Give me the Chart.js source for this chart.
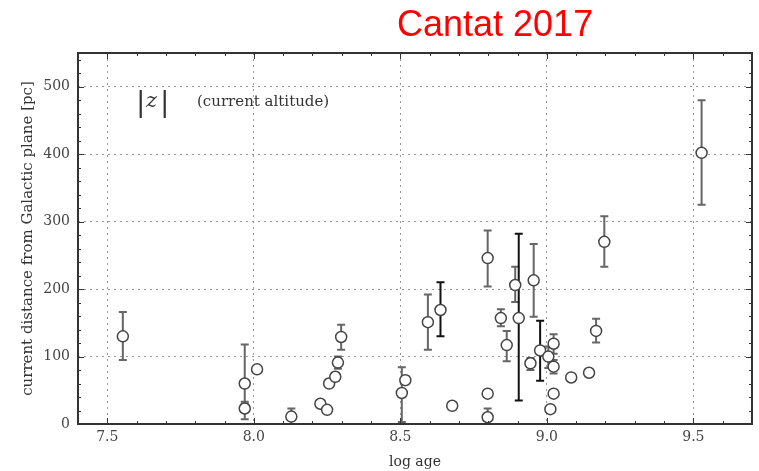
<!DOCTYPE html>
<html>
<head>
<meta charset="utf-8">
<script src="https://cdn.jsdelivr.net/npm/chart.js@4"></script>
<style>
  html, body { margin: 0; padding: 0; background: #fff; }
  #wrap { width: 759px; height: 471px; position: relative; }
</style>
</head>
<body>
<div id="wrap"><canvas id="myChart"></canvas></div>
<script>
// data
const logAge = [7.553, 7.969, 7.969, 8.011, 8.128, 8.227, 8.250, 8.257, 8.278, 8.287, 8.298,
  8.505, 8.517, 8.594, 8.637, 8.677, 8.798, 8.798, 8.798, 8.843, 8.863, 8.892, 8.904,
  8.944, 8.955, 8.977, 9.005, 9.023, 9.023, 9.012, 9.023, 9.083, 9.144, 9.168, 9.196, 9.528];
const zDist = [130, 60, 23, 81, 11, 30, 21, 60, 70, 91, 129,
  46, 65, 151, 169, 27, 246, 45, 10, 157, 117, 206, 157,
  90, 213, 109, 100, 119, 85, 22, 45, 69, 76, 138, 270, 402];
// upper / lower ends of the error bars (null = no bar)
const zUpper = [166, 118, 33, 86, 23, null, null, 66, 76, 100, 147,
  84, 71, 192, 210, null, 287, null, 23, 170, 138, 233, 282,
  98, 267, 153, 115, 133, 95, null, null, null, 81, 156, 308, 480];
const zLower = [95, 30, 7, 76, 0, null, null, 55, 64, 82, 110,
  3, 59, 110, 130, null, 204, null, 0, 145, 93, 181, 35,
  80, 159, 64, 83, 104, 75, null, null, null, 71, 121, 233, 325];
const darkBars = [14, 22, 25];

const xTicks = [7.5, 8.0, 8.5, 9.0, 9.5];
const yTicks = [0, 100, 200, 300, 400, 500];
const xMinor = [7.4, 7.5, 7.6, 7.7, 7.8, 7.9, 8.0, 8.1, 8.2, 8.3, 8.4, 8.5, 8.6, 8.7, 8.8, 8.9, 9.0, 9.1, 9.2, 9.3, 9.4, 9.5, 9.6];
const yMinor = [20, 40, 60, 80, 100, 120, 140, 160, 180, 200, 220, 240, 260, 280, 300, 320, 340, 360, 380, 400, 420, 440, 460, 480, 500, 520, 540];

const points = logAge.map((x, i) => ({ x: x, y: zDist[i] }));

const serif = "'DejaVu Serif', serif";

// error bars, frame, inward ticks and labels
const extras = {
  id: "extras",
  beforeDatasetsDraw(chart) {
    const ctx = chart.ctx;
    const xs = chart.scales.x, ys = chart.scales.y;
    ctx.save();
    for (let i = 0; i < logAge.length; i++) {
      if (zUpper[i] === null) continue;
      const px = xs.getPixelForValue(logAge[i]);
      const top = ys.getPixelForValue(zUpper[i]);
      const bot = ys.getPixelForValue(zLower[i]);
      ctx.strokeStyle = darkBars.includes(i) ? "#111" : "#666";
      ctx.lineWidth = 2;
      ctx.beginPath();
      ctx.moveTo(px, top); ctx.lineTo(px, bot);
      ctx.moveTo(px - 4, top); ctx.lineTo(px + 4, top);
      ctx.moveTo(px - 4, bot); ctx.lineTo(px + 4, bot);
      ctx.stroke();
    }
    ctx.restore();
  },
  afterDraw(chart) {
    const ctx = chart.ctx;
    const a = chart.chartArea;
    const xs = chart.scales.x, ys = chart.scales.y;
    ctx.save();
    ctx.strokeStyle = "#333";
    ctx.lineWidth = 1;
    ctx.beginPath();
    xMinor.forEach(v => {
      const p = Math.round(xs.getPixelForValue(v)) + 0.5;
      const len = xTicks.includes(v) ? 6 : 3;
      ctx.moveTo(p, a.bottom); ctx.lineTo(p, a.bottom - len);
      ctx.moveTo(p, a.top); ctx.lineTo(p, a.top + len);
    });
    yMinor.forEach(v => {
      const p = Math.round(ys.getPixelForValue(v)) + 0.5;
      const len = yTicks.includes(v) ? 6 : 3;
      ctx.moveTo(a.left, p); ctx.lineTo(a.left + len, p);
      ctx.moveTo(a.right, p); ctx.lineTo(a.right - len, p);
    });
    ctx.stroke();
    ctx.lineWidth = 2;
    ctx.strokeRect(a.left, a.top, a.right - a.left, a.bottom - a.top);

    // title
    ctx.fillStyle = "#ff0000";
    ctx.font = "36px 'Liberation Sans', Arial, sans-serif";
    ctx.textAlign = "left";
    ctx.textBaseline = "alphabetic";
    ctx.fillText("Cantat 2017", 397, 36);

    // label inside the plot
    ctx.fillStyle = "#333";
    ctx.font = "28px " + serif;
    ctx.fillText("|", 136, 111);
    ctx.fillText("|", 160, 111);
    ctx.font = "italic 21px " + serif;
    ctx.fillText("z", 146, 107);
    ctx.font = "15px " + serif;
    ctx.fillText("(current altitude)", 197, 106);
    ctx.restore();
  }
};

const ctx = document.getElementById("myChart").getContext("2d");
const myChart = new Chart(ctx, {
  type: "scatter",
  data: {
    datasets: [
      {
        label: "|z|",
        data: points,
        pointStyle: "circle",
        pointRadius: 5.5,
        pointBackgroundColor: "#fff",
        pointBorderColor: "#444",
        pointBorderWidth: 1.5,
      },
    ],
  },
  options: {
    responsive: true,
    maintainAspectRatio: false,
    animation: false,
    layout: { padding: { top: 53, right: 1, left: 19, bottom: 0 } },
    plugins: {
      legend: { display: false },
      tooltip: { enabled: false },
    },
    scales: {
      x: {
        type: "linear",
        min: 7.4,
        max: 9.7,
        afterBuildTicks: (s) => { s.ticks = xTicks.map(v => ({ value: v })); },
        afterFit: (s) => { s.height = 47; },
        ticks: {
          callback: (v) => v.toFixed(1),
          font: { family: serif, size: 14 },
          color: "#444",
          padding: 5,
          maxRotation: 0,
        },
        grid: {
          drawTicks: false,
          color: (c) => (c.tick && (c.tick.value === 7.4 || c.tick.value === 9.7)) ? "rgba(0,0,0,0)" : "#999",
          lineWidth: 1,
        },
        border: { display: false, dash: [2, 4] },
        title: {
          display: true,
          text: "log age",
          font: { family: serif, size: 14 },
          color: "#333",
          padding: { top: 2, bottom: 0 },
        },
      },
      y: {
        type: "linear",
        min: 0,
        max: 550,
        afterBuildTicks: (s) => { s.ticks = yTicks.map(v => ({ value: v })); },
        afterFit: (s) => { s.width = 59; },
        ticks: {
          font: { family: serif, size: 14 },
          color: "#444",
          padding: 8,
        },
        grid: {
          drawTicks: false,
          color: (c) => (c.tick && c.tick.value === 0) ? "rgba(0,0,0,0)" : "#999",
          lineWidth: 1,
        },
        border: { display: false, dash: [2, 4] },
        title: {
          display: true,
          text: "current distance from Galactic plane [pc]",
          font: { family: serif, size: 15 },
          color: "#333",
          padding: { top: 0, bottom: 4 },
        },
      },
    },
  },
  plugins: [extras],
});
</script>
</body>
</html>
